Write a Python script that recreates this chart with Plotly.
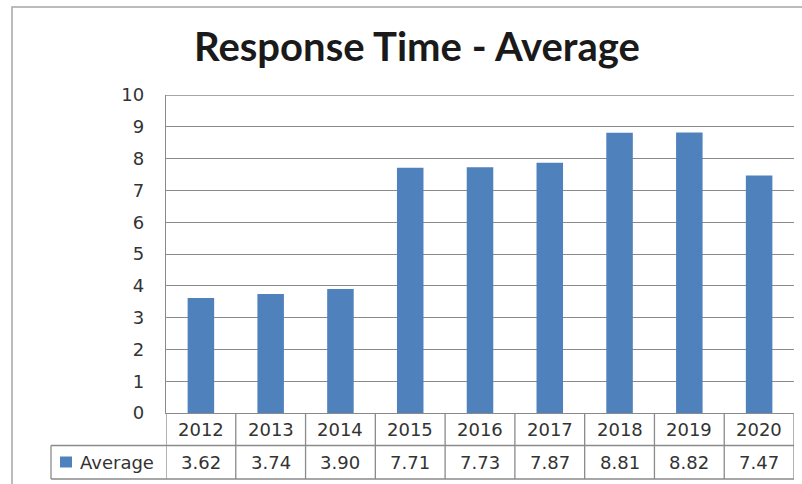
import plotly.graph_objects as go

# ---- data ----
years = ["2012", "2013", "2014", "2015", "2016", "2017", "2018", "2019", "2020"]
values = [3.62, 3.74, 3.90, 7.71, 7.73, 7.87, 8.81, 8.82, 7.47]
series_name = "Average"
chart_title = "Response Time - Average"
y_tick_values = [0, 1, 2, 3, 4, 5, 6, 7, 8, 9, 10]

# ---- geometry (pixels) ----
W, H = 802, 484
L, R, T, B = 166, 8, 95, 71
PW, PH = W - L - R, H - T - B

def py(p):   # pixel row -> paper y
    return (H - B - p) / PH

def pxp(p):  # pixel col -> paper x
    return (p - L) / PW

BAR = "#4F81BD"
GRID = "#8a8a8a"
TXT = "#333333"
FONT = "DejaVu Sans"
FS = 18

n = len(years)
xs = list(range(n))

fig = go.Figure()
fig.add_trace(go.Bar(x=xs, y=values, name=series_name, marker=dict(color=BAR, line=dict(width=0)),
                     width=0.38, showlegend=False, hoverinfo="x+y"))

shapes = []
row1_top, row1_bot, row2_bot = 413, 445.5, 479
line = dict(color=GRID, width=1.3)
# top gridline (at max tick, on the axis edge)
shapes.append(dict(type="line", xref="paper", yref="y", x0=0, x1=1,
                   y0=max(y_tick_values), y1=max(y_tick_values), line=line))
# vertical separators of the data table
for k in range(n + 1):
    shapes.append(dict(type="line", xref="x", yref="paper", x0=k - 0.5, x1=k - 0.5,
                       y0=py(row1_top), y1=py(row2_bot), line=line))
# horizontal lines of the table
for yy in (row1_bot, row2_bot):
    shapes.append(dict(type="line", xref="paper", yref="paper", x0=pxp(51), x1=1,
                       y0=py(yy), y1=py(yy), line=line))
# legend cell left border
shapes.append(dict(type="line", xref="paper", yref="paper", x0=pxp(51), x1=pxp(51),
                   y0=py(row1_bot), y1=py(row2_bot), line=line))
# legend swatch
shapes.append(dict(type="rect", xref="paper", yref="paper", x0=pxp(60), x1=pxp(72),
                   y0=py(467.5), y1=py(456.5), fillcolor=BAR, line=dict(width=0)))
# outer chart border
shapes.append(dict(type="rect", xref="paper", yref="paper", x0=pxp(12), x1=pxp(830),
                   y0=py(520), y1=py(7), line=dict(color="#a6a6a6", width=1.5),
                   fillcolor="rgba(0,0,0,0)", layer="below"))

annotations = []
for i, (yr, v) in enumerate(zip(years, values)):
    annotations.append(dict(x=i, y=py((row1_top + row1_bot) / 2), xref="x", yref="paper",
                            text=yr, showarrow=False, xanchor="center", yanchor="middle",
                            font=dict(family=FONT, size=FS, color=TXT)))
    annotations.append(dict(x=i, y=py((row1_bot + row2_bot) / 2), xref="x", yref="paper",
                            text=f"{v:.2f}", showarrow=False, xanchor="center", yanchor="middle",
                            font=dict(family=FONT, size=FS, color=TXT)))
annotations.append(dict(x=pxp(78), y=py((row1_bot + row2_bot) / 2), xref="paper", yref="paper",
                        text=series_name, showarrow=False, xanchor="left", yanchor="middle",
                        font=dict(family=FONT, size=FS, color=TXT)))

fig.update_layout(
    width=W, height=H,
    margin=dict(l=L, r=R, t=T, b=B, pad=0),
    paper_bgcolor="white", plot_bgcolor="white",
    title=dict(text=f"<b>{chart_title}</b>", x=417 / W, xanchor="center", xref="container",
               y=1 - 47 / H, yanchor="middle", yref="container",
               font=dict(family="Lato", size=40, color="#1a1a1a")),
    xaxis=dict(range=[-0.5, n - 0.5], showticklabels=False, showgrid=False, zeroline=False,
               showline=True, linecolor=GRID, linewidth=1.3, ticks=""),
    yaxis=dict(range=[0, 10], tickvals=y_tick_values, showgrid=True, gridcolor=GRID, gridwidth=1.3,
               zeroline=False, showline=True, linecolor=GRID, linewidth=1.3, ticks="",
               ticklabelstandoff=17, tickfont=dict(family=FONT, size=FS, color=TXT)),
    shapes=shapes, annotations=annotations,
    showlegend=False,
)
fig.write_html("out.html")
